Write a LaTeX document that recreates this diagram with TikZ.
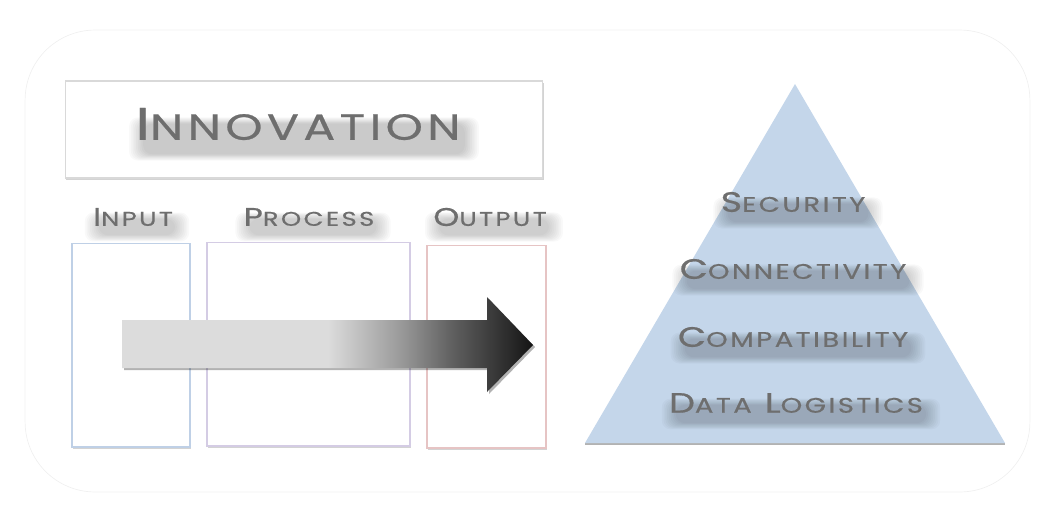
\documentclass[tikz,border=0pt]{standalone}
\usepackage{fontspec}
\usepackage{relsize}
\setmainfont[FakeStretch=1.3, FakeBold=0.6, LetterSpace=12]{Poppins}
\usetikzlibrary{shadows}
\definecolor{capsgray}{HTML}{6E6E6E}
\definecolor{pyramidblue}{HTML}{C4D6EA}
\definecolor{inedge}{HTML}{BFD0E6}
\definecolor{procedge}{HTML}{D4CCE4}
\definecolor{outedge}{HTML}{E6C4C4}
\definecolor{flowlight}{HTML}{DCDCDC}
\newcommand{\lowcaps}[1]{\textscale{0.78}{#1}}
\pgfdeclarehorizontalshading{flowshade}{100bp}{color(0bp)=(flowlight); color(25bp)=(flowlight);
  color(50bp)=(flowlight); color(59bp)=(black!40); color(65bp)=(black!62);
  color(71bp)=(black!80); color(75bp)=(black!92); color(100bp)=(black!92)}

\begin{document}
\begin{tikzpicture}[x=0.02cm, y=-0.02cm,
  frame/.style={draw=gray!12, rounded corners=1.4cm, minimum width=20.1cm, minimum height=9.24cm},
  box/.style={draw, fill=white, line width=0.6pt,
              drop shadow={shadow xshift=0.5pt, shadow yshift=-1.3pt, opacity=0.35}},
  caps/.style={text=capsgray, inner sep=0pt},
  haze/.style={fill=black, fill opacity=0.022, rounded corners=5pt,
               inner xsep=#1pt, inner ysep=0.45*#1pt},
  titlefont/.style={font=\fontsize{26}{30}\selectfont},
  labelfont/.style={font=\fontsize{14.5}{17}\selectfont},
  tierfont/.style={font=\fontsize{16}{19}\selectfont},
]
\useasboundingbox (0,0) rectangle (1062,508);

\node[frame] (frame) at (527.5,261) {};

\node[box, draw=gray!30, minimum width=9.56cm, minimum height=1.94cm] (titlebox) at (304,129.5) {};
\foreach \g in {-1,0,...,7}
  \node[haze=\g, titlefont] at (304,139) {\phantom{I\lowcaps{NNOVATION}}};
\node[caps, titlefont] (title) at (298,124) {I\lowcaps{NNOVATION}};

\foreach \lbl/\x/\y/\txt in {input/133/217/{I\lowcaps{NPUT}},
                              process/309/217/{P\lowcaps{ROCESS}},
                              output/490/217/{O\lowcaps{UTPUT}}} {
  \foreach \g in {-1,0,...,7}
    \node[haze=\g, labelfont] at (\x+4,\y+10) {\phantom{\txt}};
  \node[caps, labelfont] (\lbl) at (\x,\y) {\txt};
}

\node[box, draw=inedge, minimum width=2.36cm, minimum height=4.08cm] (inbox) at (131,345) {};
\node[box, draw=procedge, minimum width=4.06cm, minimum height=4.08cm] (procbox) at (308.5,344) {};
\node[box, draw=outedge, minimum width=2.38cm, minimum height=4.06cm] (outbox) at (486.5,346.5) {};

% flow arrow
\fill[black, opacity=0.3] (124,322) -- (489,322) -- (489,299) -- (535,347) -- (489,394)
  -- (489,370) -- (124,370) -- cycle;
\shade[shading=flowshade] (122,320) -- (487,320) -- (487,297) -- (533,345) -- (487,392)
  -- (487,368) -- (122,368) -- cycle;

% pyramid
\coordinate (apex) at (795,84);
\coordinate (baseL) at (585,443);
\coordinate (baseR) at (1005,443);
\fill[black, opacity=0.3] ([yshift=-1.2pt]baseL) -- ([yshift=-1.2pt]baseR) -- (baseR) -- (baseL) -- cycle;
\fill[pyramidblue] (apex) -- (baseR) -- (baseL) -- cycle;

\foreach \lbl/\x/\y/\txt in {security/793/202/{S\lowcaps{ECURITY}},
                              connectivity/793/269/{C\lowcaps{ONNECTIVITY}},
                              compatibility/793/337/{C\lowcaps{OMPATIBILITY}},
                              logistics/796/403/{D\lowcaps{ATA} L\lowcaps{OGISTICS}}} {
  \foreach \g in {-1,0,...,7}
    \node[haze=\g, tierfont] at (\x+5,\y+11) {\phantom{\txt}};
  \node[caps, tierfont] (\lbl) at (\x,\y) {\txt};
}
\end{tikzpicture}
\end{document}
